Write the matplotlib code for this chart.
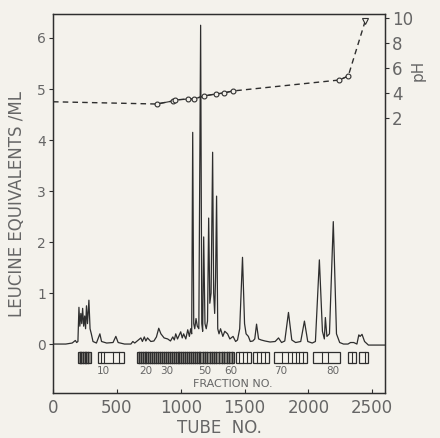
import matplotlib.pyplot as plt
from matplotlib.patches import Rectangle

# chromatogram trace (tube no., leucine equivalents / ml)
tube = [0, 100, 150, 175, 185, 195, 203, 210, 218, 225, 232, 240, 248, 255, 262, 270,
        281, 290, 300, 313, 340, 367, 380, 420, 470, 492, 510, 560, 610, 625, 640,
        688, 700, 715, 727, 740, 766, 790, 810, 828, 845, 870, 898, 920, 938, 950,
        961, 975, 1000, 1012, 1023, 1040, 1055, 1068, 1078, 1086, 1094, 1102, 1110,
        1120, 1130, 1142, 1156, 1165, 1172, 1180, 1190, 1200, 1210, 1219, 1228, 1238,
        1250, 1258, 1266, 1273, 1281, 1290, 1300, 1312, 1330, 1345, 1367, 1385, 1410,
        1430, 1445, 1462, 1484, 1500, 1512, 1530, 1545, 1565, 1580, 1594, 1610, 1630,
        1660, 1700, 1740, 1766, 1790, 1815, 1844, 1870, 1900, 1940, 1969, 1995, 2030,
        2055, 2086, 2110, 2125, 2133, 2145, 2165, 2195, 2220, 2245, 2275, 2310, 2330,
        2355, 2380, 2395, 2405, 2420, 2440, 2470, 2530, 2600]
leucine = [0.0, 0.0, 0.02, 0.07, 0.03, 0.05, 0.72, 0.35, 0.6, 0.4, 0.7, 0.35, 0.55,
           0.3, 0.75, 0.4, 0.86, 0.3, 0.2, 0.05, 0.02, 0.2, 0.05, 0.02, 0.03, 0.15,
           0.03, 0.0, 0.0, 0.05, 0.02, 0.12, 0.05, 0.14, 0.06, 0.12, 0.05, 0.06, 0.14,
           0.31, 0.2, 0.12, 0.1, 0.06, 0.14, 0.08, 0.2, 0.1, 0.24, 0.12, 0.2, 0.1, 0.28,
           0.15, 0.3, 0.2, 4.15, 0.4, 0.3, 0.5, 0.35, 0.3, 6.25, 0.4, 0.25, 2.1, 0.4,
           0.3, 0.45, 2.47, 0.8, 1.0, 3.76, 1.0, 0.6, 1.3, 2.9, 0.3, 0.2, 0.3, 0.15,
           0.25, 0.2, 0.1, 0.15, 0.05, 0.08, 0.3, 1.7, 0.4, 0.2, 0.15, 0.05, 0.06, 0.1,
           0.39, 0.1, 0.08, 0.06, 0.04, 0.05, 0.12, 0.03, 0.06, 0.62, 0.08, 0.03, 0.05,
           0.45, 0.05, 0.02, 0.05, 1.65, 0.25, 0.1, 0.52, 0.15, 0.2, 2.4, 0.2, 0.03,
           0.0, 0.0, 0.03, 0.03, 0.0, 0.18, 0.15, 0.19, 0.05, -0.02, -0.02, -0.02]

# pH of the eluate
ph_tube = [0, 812, 937, 953, 1055, 1102, 1180, 1273, 1336, 1406, 2242, 2312, 2445]
ph = [3.3, 3.12, 3.36, 3.44, 3.52, 3.52, 3.76, 3.92, 4.0, 4.16, 5.04, 5.36, 9.76]

# fraction boundaries (tube no.), one list per block
fraction_blocks = [
    [195, 210, 222, 235, 248, 262, 275, 295],
    [350, 372, 398, 470, 515, 555],
    [660, 675, 690, 705, 718, 732, 746, 760, 774, 790, 806, 822, 838, 853, 868,
     884, 900, 915, 930, 945, 960, 975, 990, 1005, 1020, 1035, 1050, 1065, 1080,
     1095, 1110, 1125, 1140, 1155, 1172, 1190, 1208, 1226, 1244, 1262, 1280, 1300,
     1320, 1340, 1360, 1380, 1400, 1415],
    [1430, 1460, 1490, 1520, 1547],
    [1570, 1600, 1630, 1660, 1690],
    [1727, 1790, 1840, 1870, 1900, 1930, 1960, 1992],
    [2040, 2110, 2150, 2250],
    [2313, 2340, 2370],
    [2400, 2440, 2470],
]
dense_blocks = [True, False, True, False, False, False, False, False, False]
fraction_nums = [10, 20, 30, 50, 60, 70, 80]
fraction_pos = [398, 727, 890, 1187, 1390, 1781, 2195]

bg = '#f4f2ec'
ink = '#2e2e2e'
txt = '#666666'

fig = plt.figure(figsize=(4.4, 4.38), dpi=100, facecolor=bg)
ax = fig.add_axes([0.1205, 0.1027, 0.7545, 0.8653], facecolor=bg)

ax.plot(tube, leucine, color=ink, lw=0.9)

# fraction bars under the trace
for edges, dense in zip(fraction_blocks, dense_blocks):
    ax.add_patch(Rectangle((edges[0], -0.37), edges[-1] - edges[0], 0.21,
                           fc='#9a9892' if dense else 'none', ec=ink, lw=0.9))
    for e in edges[1:-1]:
        ax.plot([e, e], [-0.37, -0.16], color=ink, lw=1.0 if dense else 0.8)
for n, p in zip(fraction_nums, fraction_pos):
    ax.text(p, -0.52, str(n), ha='center', va='center', fontsize=7.5, color=txt)
ax.text(1406, -0.79, 'FRACTION NO.', ha='center', va='center', fontsize=8, color=txt)

ax.set_xlim(0, 2600)
ax.set_ylim(-0.96, 6.47)
ax.set_xticks([0, 500, 1000, 1500, 2000, 2500])
ax.set_yticks([0, 1, 2, 3, 4, 5, 6])
ax.tick_params(axis='x', direction='in', length=3, labelsize=12, labelcolor=txt, color=ink, pad=4)
ax.tick_params(axis='y', direction='out', length=3, labelsize=10, labelcolor=txt, color=ink, pad=2)
ax.set_xlabel('TUBE  NO.', fontsize=12, color=txt, labelpad=2)
ax.set_ylabel('LEUCINE EQUIVALENTS /ML', fontsize=12, color=txt, labelpad=8)
for s in ax.spines.values():
    s.set_color(ink)
    s.set_linewidth(1.0)

ax2 = ax.twinx()
ax2.plot(ph_tube, ph, color=ink, lw=1.0, ls=(0, (4, 3)))
ax2.plot(ph_tube[1:10], ph[1:10], color=ink, lw=0.8, marker='o', ms=3.5,
         mfc=bg, mec=ink, mew=0.8)
ax2.plot(ph_tube[10:12], ph[10:12], color=ink, lw=0.8, marker='o', ms=3.5,
         mfc=bg, mec=ink, mew=0.8)
ax2.plot(ph_tube[12:], ph[12:], ls='none', marker='v', ms=4, mfc=bg, mec=ink, mew=0.8)
ax2.set_ylim(-20, 10.32)
ax2.set_yticks([2, 4, 6, 8, 10])
ax2.tick_params(axis='y', direction='out', length=3, labelsize=12, labelcolor=txt, color=ink, pad=2)
for s in ax2.spines.values():
    s.set_color(ink)
fig.text(418 / 440, 1 - 70 / 438, 'pH', rotation=90, ha='center', va='center',
         fontsize=11, color=txt)

fig.savefig('out.png', dpi=100, facecolor=bg)
